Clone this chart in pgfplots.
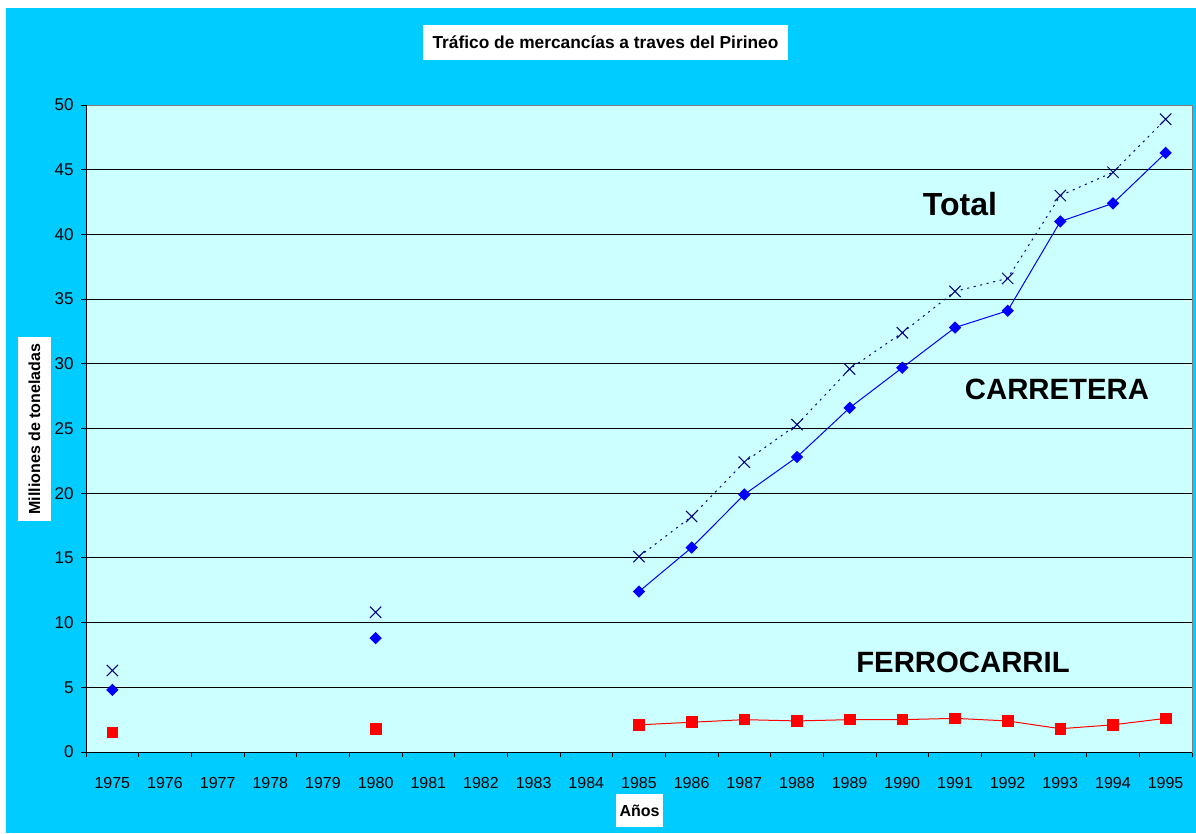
\documentclass[border=0pt]{standalone}
\usepackage{fontspec}
\setmainfont{Liberation Sans}
\usepackage{pgfplots}
\pgfplotsset{compat=1.18}
\definecolor{outerbg}{RGB}{0,204,255}
\definecolor{plotbg}{RGB}{204,255,255}
\definecolor{navy}{RGB}{0,0,128}
\definecolor{roadblue}{RGB}{0,0,255}
\definecolor{railred}{RGB}{255,0,0}
\begin{document}
\begin{tikzpicture}[x=0.75pt,y=0.75pt]
\fill[white] (0,0) rectangle (1196,833);
\fill[outerbg] (6,0) rectangle (1196,825);
\begin{axis}[
  at={(64.5pt,60.75pt)}, anchor=south west,
  scale only axis, width=829.5pt, height=485.25pt,
  xmin=1974.5, xmax=1995.5, ymin=0, ymax=50,
  axis background/.style={fill=plotbg},
  axis line style={draw=gray, line width=0.75pt},
  xtick={1975,...,1995},
  minor xtick={1974.5,1975.5,1976.5,1977.5,1978.5,1979.5,1980.5,1981.5,1982.5,1983.5,1984.5,1985.5,1986.5,1987.5,1988.5,1989.5,1990.5,1991.5,1992.5,1993.5,1994.5,1995.5},
  major x tick style={draw=none},
  minor x tick style={black, line width=0.75pt},
  ytick={0,5,...,50},
  y tick style={black, line width=0.75pt},
  tick align=outside,
  tick pos=left,
  major tick length=3.75pt, minor tick length=3.75pt,
  ymajorgrids,
  major grid style={black, line width=0.75pt},
  /pgf/number format/assume math mode=true,
  /pgf/number format/set thousands separator={},
  x tick label style={font=\fontsize{12}{14}\selectfont, yshift=-11.5pt},
  y tick label style={font=\fontsize{12.75}{15}\selectfont, xshift=-2pt},
  unbounded coords=jump,
  clip=false,
]
% Total
\addplot[navy, line width=0.75pt, dash pattern=on 1.5pt off 3.5pt, mark=x, mark size=6pt, mark options={solid, line width=0.75pt}] coordinates {
(1975,6.3) (1976,nan) (1977,nan) (1978,nan) (1979,nan) (1980,10.8) (1981,nan) (1982,nan) (1983,nan) (1984,nan)
(1985,15.1) (1986,18.2) (1987,22.4) (1988,25.3) (1989,29.6) (1990,32.4) (1991,35.6) (1992,36.6) (1993,43.0) (1994,44.8) (1995,48.9)};
% Carretera
\addplot[roadblue, line width=0.75pt, mark=square*, mark size=2.9pt, mark options={solid, rotate=45}] coordinates {
(1975,4.8) (1976,nan) (1977,nan) (1978,nan) (1979,nan) (1980,8.8) (1981,nan) (1982,nan) (1983,nan) (1984,nan)
(1985,12.4) (1986,15.8) (1987,19.9) (1988,22.8) (1989,26.6) (1990,29.7) (1991,32.8) (1992,34.1) (1993,41.0) (1994,42.4) (1995,46.3)};
% Ferrocarril
\addplot[railred, line width=0.75pt, mark=square*, mark size=4pt, mark options={solid}] coordinates {
(1975,1.5) (1976,nan) (1977,nan) (1978,nan) (1979,nan) (1980,1.8) (1981,nan) (1982,nan) (1983,nan) (1984,nan)
(1985,2.1) (1986,2.3) (1987,2.5) (1988,2.4) (1989,2.5) (1990,2.5) (1991,2.6) (1992,2.4) (1993,1.8) (1994,2.1) (1995,2.6)};
\draw[black, line width=0.75pt] (rel axis cs:0,1) -- (rel axis cs:0,0) -- (rel axis cs:1,0);
\end{axis}
% title
\node[fill=white, minimum width=273.75pt, minimum height=26.25pt, inner sep=0pt, font=\bfseries\fontsize{13}{15}\selectfont] at (605.5,790.5) {Tráfico de mercancías a traves del Pirineo};
% y label
\node[fill=white, rotate=90, minimum width=138pt, minimum height=24.75pt, inner sep=0pt, font=\bfseries\fontsize{12}{14}\selectfont] at (34.5,404) {Milliones de toneladas};
% x label
\node[fill=white, minimum width=35.25pt, minimum height=24.75pt, inner sep=0pt, font=\bfseries\fontsize{12}{14}\selectfont] at (639.5,22.5) {Años};
% annotations
\node[font=\bfseries\fontsize{24}{28}\selectfont] at (960,629) {Total};
\node[font=\bfseries\fontsize{22}{26}\selectfont] at (1057,444) {CARRETERA};
\node[font=\bfseries\fontsize{22}{26}\selectfont] at (963,171) {FERROCARRIL};
\end{tikzpicture}
\end{document}
